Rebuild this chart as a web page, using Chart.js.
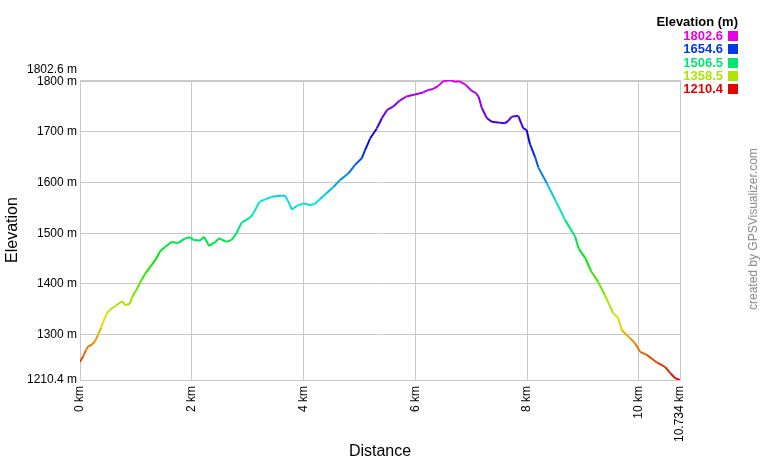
<!DOCTYPE html>
<html>
<head>
<meta charset="utf-8">
<title>Elevation profile</title>
<script src="https://cdn.jsdelivr.net/npm/chart.js@4.4.1/dist/chart.umd.min.js"></script>
<style>
  body { margin: 0; background: #fff; font-family: "Liberation Sans", Arial, sans-serif; }
  .wrap { position: relative; width: 760px; height: 460px; }
  .legend { position: absolute; right: 22px; top: 14px; text-align: right; font-weight: bold; font-size: 13px; }
  .legend-title { color: #000; line-height: 15px; }
  .legend-row { line-height: 13.3px; height: 13.3px; }
  .legend-row span.box { display: inline-block; width: 10px; height: 10px; margin-left: 5px; vertical-align: -1px; }
  .credit { position: absolute; left: 753px; top: 229px; transform: translate(-50%, -50%) rotate(-90deg);
    white-space: nowrap; font-size: 12px; color: #888; }
</style>
</head>
<body>
<div class="wrap">
  <canvas id="profile" width="760" height="460"></canvas>
  <div class="legend" id="legend"></div>
  <div class="credit">created by GPSVisualizer.com</div>
</div>
<script>
// track data
const distanceKm = [
  0.000, 0.060, 0.110, 0.150, 0.210, 0.270, 0.320, 0.380, 0.420, 0.480,
  0.540, 0.630, 0.750, 0.810, 0.890, 0.940, 1.010, 1.100, 1.190, 1.280,
  1.370, 1.430, 1.520, 1.640, 1.760, 1.880, 1.970, 2.030, 2.150, 2.220,
  2.310, 2.410, 2.490, 2.620, 2.710, 2.800, 2.890, 3.040, 3.100, 3.210,
  3.310, 3.430, 3.580, 3.670, 3.730, 3.790, 3.880, 4.000, 4.110, 4.200,
  4.290, 4.410, 4.530, 4.650, 4.800, 4.920, 5.040, 5.100, 5.190, 5.310,
  5.400, 5.490, 5.600, 5.720, 5.840, 5.990, 6.140, 6.230, 6.320, 6.410,
  6.500, 6.620, 6.710, 6.790, 6.890, 7.010, 7.080, 7.130, 7.190, 7.280,
  7.370, 7.510, 7.600, 7.660, 7.720, 7.840, 7.930, 7.990, 8.050, 8.140,
  8.200, 8.350, 8.500, 8.680, 8.860, 8.920, 9.040, 9.150, 9.270, 9.390,
  9.540, 9.630, 9.690, 9.840, 9.930, 10.020, 10.140, 10.320, 10.470, 10.560,
  10.650, 10.734
];
const elevationM = [
  1246, 1258, 1270, 1277, 1280, 1287, 1299, 1314, 1326, 1342,
  1350, 1356, 1366, 1358, 1361, 1376, 1388, 1408, 1424, 1437,
  1451, 1464, 1473, 1483, 1481, 1490, 1492, 1487, 1486, 1493,
  1475, 1482, 1490, 1483, 1487, 1500, 1521, 1531, 1539, 1562,
  1567, 1572, 1574, 1574, 1562, 1547, 1554, 1559, 1556, 1558,
  1567, 1579, 1591, 1605, 1618, 1635, 1648, 1664, 1687, 1707,
  1727, 1743, 1750, 1762, 1770, 1774, 1778, 1783, 1785, 1791,
  1800, 1802.6, 1799, 1800, 1794, 1781, 1777, 1770, 1747, 1727,
  1720, 1718, 1717, 1722, 1730, 1732, 1707, 1704, 1676, 1651,
  1630, 1599, 1566, 1526, 1493, 1470, 1451, 1424, 1404, 1378,
  1342, 1333, 1309, 1293, 1283, 1266, 1260, 1245, 1236, 1224,
  1214, 1210.4
];

const xTicks = [0, 2, 4, 6, 8, 10, 10.734];
const yTicks = [1210.4, 1300, 1400, 1500, 1600, 1700, 1800, 1802.6];
const legendValues = [1802.6, 1654.6, 1506.5, 1358.5, 1210.4];

const minElev = 1210.4;
const maxElev = 1802.6;

// red at the lowest point up to magenta at the highest
function colorFor(v) {
  const t = Math.min(1, Math.max(0, (v - minElev) / (maxElev - minElev)));
  return `hsl(${Math.round(t * 300)}, 100%, 45%)`;
}

// legend box at the top right
document.querySelector("#legend").innerHTML =
  `<div class="legend-title">Elevation (m)</div>` +
  legendValues
    .map((v) => `<div class="legend-row" style="color:${colorFor(v)}">${v.toFixed(1)}<span class="box" style="background:${colorFor(v)}"></span></div>`)
    .join("");

const points = distanceKm.map((d, i) => ({ x: d, y: elevationM[i] }));
const gridColor = "#c8c8c8";
const font = { family: "'Liberation Sans', Arial, sans-serif", size: 12 };

new Chart(document.querySelector("#profile"), {
  type: "line",
  data: {
    datasets: [
      {
        data: points,
        borderWidth: 2,
        pointRadius: 0,
        tension: 0,
        fill: false,
        segment: {
          borderColor: (ctx) => colorFor((ctx.p0.parsed.y + ctx.p1.parsed.y) / 2),
        },
      },
    ],
  },
  options: {
    responsive: false,
    animation: false,
    devicePixelRatio: 1,
    layout: { padding: { left: 5, top: 80, right: 80, bottom: 0 } },
    plugins: { legend: { display: false }, tooltip: { enabled: false } },
    scales: {
      x: {
        type: "linear",
        min: 0,
        max: 10.734,
        afterBuildTicks: (axis) => {
          axis.ticks = xTicks.map((v) => ({ value: v }));
        },
        afterFit: (axis) => {
          axis.height = 80;
        },
        grid: { color: gridColor, drawTicks: false },
        border: { color: gridColor },
        ticks: {
          autoSkip: false,
          minRotation: 90,
          maxRotation: 90,
          padding: 6,
          color: "#000",
          font: font,
          callback: (v) => v + " km",
        },
        title: {
          display: true,
          text: "Distance",
          color: "#000",
          font: { family: font.family, size: 16, lineHeight: 1 },
          padding: 0,
        },
      },
      y: {
        type: "linear",
        min: 1210.4,
        max: 1802.6,
        afterBuildTicks: (axis) => {
          axis.ticks = yTicks.map((v) => ({ value: v }));
        },
        afterFit: (axis) => {
          axis.width = 75;
        },
        grid: { color: gridColor, drawTicks: false },
        border: { color: gridColor },
        ticks: {
          autoSkip: false,
          padding: 3,
          color: "#000",
          font: { family: font.family, size: 12, lineHeight: 1.8 },
          // the top value sits a line above the 1800 label
          callback: (v) => (v === 1802.6 ? [v + " m", ""] : v + " m"),
        },
        title: {
          display: true,
          text: "Elevation",
          color: "#000",
          font: { family: font.family, size: 16, lineHeight: 1 },
          padding: 0,
        },
      },
    },
  },
});
</script>
</body>
</html>
